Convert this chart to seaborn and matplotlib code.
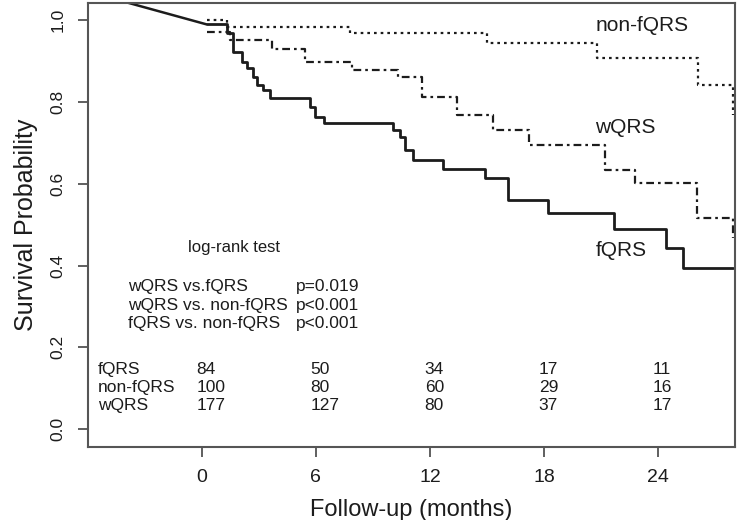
import numpy as np
import pandas as pd
import seaborn as sns
import matplotlib
matplotlib.use("Agg")
import matplotlib.pyplot as plt

# Kaplan-Meier estimates (months, survival)
fqrs_t = [0.25, 1.3, 1.65, 2.09, 2.35, 2.7, 2.88, 3.23, 3.58, 5.68, 5.95, 6.4,
          10.05, 10.4, 10.7, 11.1, 12.7, 14.9, 16.1, 18.2, 21.7, 24.4, 25.3, 27.95]
fqrs_s = [0.990, 0.968, 0.922, 0.897, 0.883, 0.861, 0.841, 0.829, 0.810, 0.787, 0.763, 0.748,
          0.731, 0.714, 0.682, 0.658, 0.636, 0.614, 0.560, 0.528, 0.489, 0.443, 0.394, 0.394]

nonf_t = [0.25, 1.3, 7.8, 15.0, 20.8, 26.1, 27.95]
nonf_s = [1.0, 0.983, 0.968, 0.944, 0.907, 0.841, 0.768]

wqrs_t = [0.25, 1.5, 3.7, 5.4, 7.9, 10.3, 11.6, 13.4, 15.3, 17.2, 21.2, 22.8, 26.05, 27.95]
wqrs_s = [0.972, 0.951, 0.931, 0.897, 0.878, 0.861, 0.812, 0.768, 0.731, 0.694, 0.633, 0.601, 0.516, 0.467]

# stray segment entering from the top left
lead_t = [-4.05, 0.25]
lead_s = [1.045, 0.990]

# numbers at risk
risk_times = [0, 6, 12, 18, 24]
risk_groups = ["fQRS", "non-fQRS", "wQRS"]
risk_fqrs = [84, 50, 34, 17, 11]
risk_nonf = [100, 80, 60, 29, 16]
risk_wqrs = [177, 127, 80, 37, 17]

logrank_pairs = ["wQRS vs.fQRS", "wQRS vs. non-fQRS", "fQRS vs. non-fQRS"]
logrank_p = ["p=0.019", "p<0.001", "p<0.001"]

sns.set_theme(style="white")
plt.rcParams["font.family"] = ["Liberation Sans", "DejaVu Sans"]

ink = "#1c1c1c"
fig, ax = plt.subplots(figsize=(7.44, 5.2), dpi=100)
fig.subplots_adjust(left=0.118, right=0.988, top=0.994, bottom=0.140)

curves = pd.concat([
    pd.DataFrame({"t": fqrs_t, "s": fqrs_s, "grp": "fQRS"}),
    pd.DataFrame({"t": nonf_t, "s": nonf_s, "grp": "non-fQRS"}),
    pd.DataFrame({"t": wqrs_t, "s": wqrs_s, "grp": "wQRS"}),
])
styles = {"fQRS": dict(lw=2.0, dashes=None),
          "non-fQRS": dict(lw=1.6, dashes=(1.2, 1.8)),
          "wQRS": dict(lw=1.6, dashes=(3.5, 1.8, 1.2, 1.8))}

for grp, sub in curves.groupby("grp"):
    st = styles[grp]
    sns.lineplot(data=sub, x="t", y="s", ax=ax, color=ink, lw=st["lw"],
                 drawstyle="steps-post", estimator=None, sort=False)
    if st["dashes"] is not None:
        ax.lines[-1].set_dashes(st["dashes"])

sns.lineplot(x=lead_t, y=lead_s, ax=ax, color=ink, lw=1.8, estimator=None, sort=False)

# curve labels
ax.text(20.7, 0.988, "non-fQRS", fontsize=15, color=ink, va="center", ha="left")
ax.text(20.7, 0.738, "wQRS", fontsize=15, color=ink, va="center", ha="left")
ax.text(20.7, 0.438, "fQRS", fontsize=15, color=ink, va="center", ha="left")

# log-rank box
ax.text(1.7, 0.445, "log-rank test", fontsize=12, color=ink, ha="center", va="center")
for i, (lab, p) in enumerate(zip(logrank_pairs, logrank_p)):
    yy = 0.348 - i * 0.045
    ax.text(-3.9, yy, lab, fontsize=12.5, color=ink, ha="left", va="center")
    ax.text(4.95, yy, p, fontsize=12.5, color=ink, ha="left", va="center")

# numbers at risk table
risk_rows = [risk_fqrs, risk_nonf, risk_wqrs]
for i, (grp, row) in enumerate(zip(risk_groups, risk_rows)):
    yy = 0.147 - i * 0.044
    ax.text(-5.47, yy, grp, fontsize=12.5, color=ink, ha="left", va="center")
    for t, n in zip(risk_times, row):
        ax.text(t - 0.28, yy, str(n), fontsize=12.5, color=ink, ha="left", va="center")

ax.set_xlim(-6, 28.05)
ax.set_ylim(-0.044, 1.042)
ax.set_xticks(risk_times)
ax.set_yticks([0.0, 0.2, 0.4, 0.6, 0.8, 1.0])
ax.set_yticklabels(["0.0", "0.2", "0.4", "0.6", "0.8", "1.0"], rotation=90, va="center")
ax.tick_params(axis="both", length=7, width=1.2, color="#444444",
               labelcolor=ink, bottom=True, left=True)
ax.tick_params(axis="x", pad=9, labelsize=14)
ax.tick_params(axis="y", pad=9, labelsize=12.5)
for sp in ax.spines.values():
    sp.set_color("#555555")
    sp.set_linewidth(1.5)

ax.set_xlabel("Follow-up (months)", fontsize=17, color=ink, labelpad=9)
ax.set_ylabel("Survival Probability", fontsize=18, color=ink, labelpad=9)

plt.savefig("out.png", dpi=100)
